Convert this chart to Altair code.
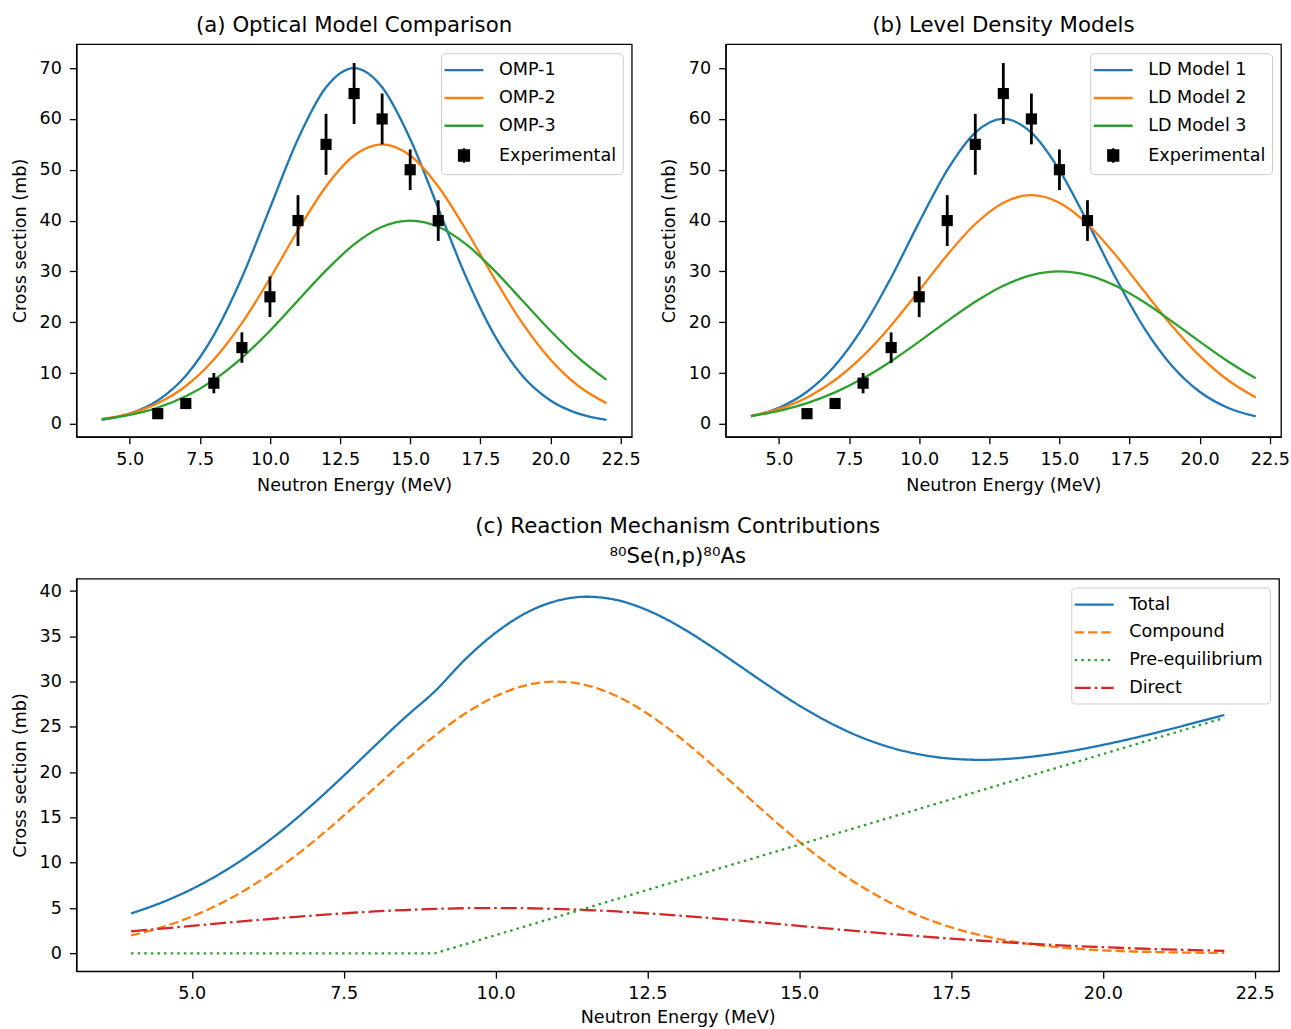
import altair as alt
import pandas as pd

FONT = "DejaVu Sans"
BLUE, ORANGE, GREEN, RED = "#1f77b4", "#ff7f0e", "#2ca02c", "#d62728"
FS = 17.6      # tick / label / legend font
TFS = 21.3     # panel title font

# ---------------- data ----------------
energy = [4, 5, 6, 7, 8, 9, 10, 11, 12, 13, 14, 15, 16, 17, 18, 19, 20, 21, 22]

omp1 = [0.78, 2.00, 4.60, 9.47, 17.46, 28.78, 42.46, 56.05, 66.22, 70.00,
        66.22, 56.05, 42.46, 28.78, 17.46, 9.47, 4.60, 2.00, 0.78]
omp2 = [0.93, 2.02, 4.04, 7.44, 12.66, 19.82, 28.62, 38.09, 46.71, 52.80,
        55.00, 52.80, 46.71, 38.09, 28.62, 19.82, 12.66, 7.44, 4.04]
omp3 = [0.91, 1.76, 3.18, 5.41, 8.65, 12.99, 18.31, 24.26, 30.19, 35.30,
        38.77, 40.00, 38.77, 35.30, 30.19, 24.26, 18.31, 12.99, 8.65]

ld1 = [1.46, 3.17, 6.32, 11.49, 19.04, 28.78, 39.69, 49.93, 57.31, 60.00,
       57.31, 49.93, 39.69, 28.78, 19.04, 11.49, 6.32, 3.17, 1.46]
ld2 = [1.54, 2.93, 5.19, 8.62, 13.36, 19.36, 26.23, 33.22, 39.32, 43.51,
       45.00, 43.51, 39.32, 33.22, 26.23, 19.36, 13.36, 8.62, 5.19]
ld3 = [1.51, 2.54, 4.06, 6.18, 8.95, 12.33, 16.18, 20.21, 24.02, 27.18,
       29.27, 30.00, 29.27, 27.18, 24.02, 20.21, 16.18, 12.33, 8.95]

exp_e = [6, 7, 8, 9, 10, 11, 12, 13, 14, 15, 16]
exp_xs = [2, 4, 8, 15, 25, 40, 55, 65, 60, 50, 40]
exp_err = [1, 1, 2, 3, 4, 5, 6, 6, 5, 4, 4]

energy_c = [4, 4.5, 5, 5.5, 6, 6.5, 7, 7.5, 8, 8.5, 9, 9.5, 10, 10.5, 11, 11.5,
            12, 12.5, 13, 13.5, 14, 14.5, 15, 15.5, 16, 16.5, 17, 17.5, 18,
            18.5, 19, 19.5, 20, 20.5, 21, 21.5, 22]
total_c = [4.40, 5.60, 7.09, 8.93, 11.11, 13.65, 16.51, 19.60, 22.82, 25.98,
           28.92, 32.45, 35.38, 37.57, 38.90, 39.37, 39.00, 37.88, 36.20, 34.11,
           31.83, 29.53, 27.36, 25.47, 23.91, 22.74, 21.94, 21.49, 21.36, 21.50,
           21.85, 22.36, 23.01, 23.75, 24.56, 25.43, 26.32]
compound_c = [1.97, 2.87, 4.06, 5.59, 7.48, 9.74, 12.33, 15.19, 18.20, 21.20,
              24.02, 26.47, 28.38, 29.59, 30.00, 29.59, 28.38, 26.47, 24.02, 21.20,
              18.20, 15.19, 12.33, 9.74, 7.48, 5.59, 4.06, 2.87, 1.97, 1.32,
              0.86, 0.54, 0.33, 0.20, 0.12, 0.07, 0.04]
preeq_c = [0, 0, 0, 0, 0, 0, 0, 0, 0, 0, 0, 1, 2, 3, 4, 5, 6, 7, 8, 9, 10, 11,
           12, 13, 14, 15, 16, 17, 18, 19, 20, 21, 22, 23, 24, 25, 26]
direct_c = [2.43, 2.73, 3.03, 3.34, 3.63, 3.91, 4.18, 4.41, 4.62, 4.78, 4.90,
            4.98, 5.00, 4.98, 4.90, 4.78, 4.62, 4.41, 4.18, 3.91, 3.63, 3.34,
            3.03, 2.73, 2.43, 2.15, 1.88, 1.62, 1.39, 1.18, 0.99, 0.82, 0.68,
            0.55, 0.44, 0.36, 0.28]

names_a = ["OMP-1", "OMP-2", "OMP-3", "Experimental"]
names_b = ["LD Model 1", "LD Model 2", "LD Model 3", "Experimental"]
names_c = ["Total", "Compound", "Pre-equilibrium", "Direct"]

x_ticks = [5, 7.5, 10, 12.5, 15, 17.5, 20, 22.5]
y_ticks_ab = [0, 10, 20, 30, 40, 50, 60, 70]
y_ticks_c = [0, 5, 10, 15, 20, 25, 30, 35, 40]

# ---------------- legend symbol paths ----------------
LINE_PATH = "M-1.5,0H2.83"
EXP_PATH = ("M0.12,-0.56H1.22V0.56H0.12Z M0.33,-0.35H1.01V0.35H0.33Z "
            "M0.54,-0.14H0.8V0.14H0.54Z M0.67,-0.8V0.8")


def legend_params():
    return alt.Legend(
        title=None, orient="top-right", offset=9, padding=6.5,
        fillColor="white", strokeColor="#cccccc", cornerRadius=4,
        labelFont=FONT, labelFontSize=FS, labelColor="black",
        symbolSize=324, symbolStrokeWidth=2.3, symbolOpacity=1,
        symbolOffset=0, labelOffset=30.5, rowPadding=7.8,
    )


xscale = alt.Scale(domain=[3.1, 22.9], nice=False, zero=False)
xaxis = alt.Axis(values=x_ticks, format=".1f", title="Neutron Energy (MeV)",
                 labelPadding=7, titlePadding=8.5)
xaxis_c = alt.Axis(values=x_ticks, format=".1f", title="Neutron Energy (MeV)",
                   labelPadding=6, titlePadding=7)


def top_panel(series, names, title):
    rows = []
    for name, vals in zip(names[:3], series):
        for e, v in zip(energy, vals):
            rows.append({"E": e, "xs": v, "model": name})
    lines = pd.DataFrame(rows)
    exp = pd.DataFrame({"E": exp_e, "xs": exp_xs, "err": exp_err})
    exp["lo"] = exp["xs"] - exp["err"]
    exp["hi"] = exp["xs"] + exp["err"]

    cscale = alt.Scale(domain=names, range=[BLUE, ORANGE, GREEN, "black"])
    sscale = alt.Scale(domain=names, range=[LINE_PATH, LINE_PATH, LINE_PATH, EXP_PATH])
    yscale = alt.Scale(domain=[-2.55, 74.7], nice=False, zero=False)
    yaxis = alt.Axis(values=y_ticks_ab, title="Cross section (mb)",
                     labelPadding=8, titlePadding=10)

    x = alt.X("E:Q", scale=xscale, axis=xaxis)
    y = alt.Y("xs:Q", scale=yscale, axis=yaxis)

    leg = alt.Chart(pd.DataFrame({"model": names})).mark_point(
        filled=False, opacity=0, strokeWidth=2.3).encode(
        color=alt.Color("model:N", scale=cscale, legend=legend_params()),
        shape=alt.Shape("model:N", scale=sscale, legend=legend_params()))
    line = alt.Chart(lines).mark_line(strokeWidth=2.3, interpolate="monotone").encode(
        x=x, y=y, color=alt.Color("model:N", scale=cscale, legend=legend_params()))
    bars = alt.Chart(exp).mark_rule(color="black", strokeWidth=2.8).encode(
        x=alt.X("E:Q", scale=xscale), y=alt.Y("lo:Q", scale=yscale), y2="hi:Q")
    pts = alt.Chart(exp).mark_square(color="black", size=125, opacity=1).encode(
        x=alt.X("E:Q", scale=xscale), y=alt.Y("xs:Q", scale=yscale))
    return alt.layer(leg, line, bars, pts).properties(
        width=556, height=393,
        title=alt.TitleParams(title, font=FONT, fontSize=TFS, fontWeight="normal",
                              color="black", offset=8))


panel_a = top_panel([omp1, omp2, omp3], names_a, "(a) Optical Model Comparison")
panel_b = top_panel([ld1, ld2, ld3], names_b, "(b) Level Density Models")

rows_c = []
for name, vals in zip(names_c, [total_c, compound_c, preeq_c, direct_c]):
    for e, v in zip(energy_c, vals):
        rows_c.append({"E": e, "xs": v, "comp": name})
df_c = pd.DataFrame(rows_c)

cscale_c = alt.Scale(domain=names_c, range=[BLUE, ORANGE, GREEN, RED])
dscale_c = alt.Scale(domain=names_c, range=[[1, 0], [9.3, 4], [2.5, 4.1], [16, 4, 2.5, 4]])
sscale_c = alt.Scale(domain=names_c, range=[LINE_PATH] * 4)
yscale_c = alt.Scale(domain=[-1.97, 41.37], nice=False, zero=False)

xc = alt.X("E:Q", scale=xscale, axis=xaxis_c)
yc = alt.Y("xs:Q", scale=yscale_c, axis=alt.Axis(values=y_ticks_c, title="Cross section (mb)",
                                                 labelPadding=8, titlePadding=10))

leg_c = alt.Chart(pd.DataFrame({"comp": names_c})).mark_point(
    filled=False, opacity=0, strokeWidth=2.3).encode(
    color=alt.Color("comp:N", scale=cscale_c, legend=legend_params()),
    shape=alt.Shape("comp:N", scale=sscale_c, legend=legend_params()),
    strokeDash=alt.StrokeDash("comp:N", scale=dscale_c, legend=legend_params()))
curves = alt.Chart(df_c).transform_filter(alt.datum.comp != "Pre-equilibrium").mark_line(
    strokeWidth=2.3, interpolate="monotone").encode(
    x=xc, y=yc,
    color=alt.Color("comp:N", scale=cscale_c, legend=legend_params()),
    strokeDash=alt.StrokeDash("comp:N", scale=dscale_c, legend=legend_params()))
preeq = alt.Chart(df_c).transform_filter(alt.datum.comp == "Pre-equilibrium").mark_line(
    strokeWidth=2.3).encode(
    x=xc, y=yc,
    color=alt.Color("comp:N", scale=cscale_c, legend=legend_params()),
    strokeDash=alt.StrokeDash("comp:N", scale=dscale_c, legend=legend_params()))

panel_c = alt.layer(leg_c, curves, preeq).properties(
    width=1204, height=393,
    title=alt.TitleParams(["(c) Reaction Mechanism Contributions", "⁸⁰Se(n,p)⁸⁰As"],
                          font=FONT, fontSize=TFS, fontWeight="normal", color="black",
                          offset=11, lineHeight=30))

top = alt.hconcat(panel_a, panel_b, spacing=17).resolve_scale(
    color="independent", shape="independent")
chart = alt.vconcat(top, panel_c, spacing=20).resolve_scale(
    color="independent", shape="independent", strokeDash="independent"
).properties(
    padding={"left": 9.5, "top": 13.7, "right": 0, "bottom": 1}
).configure_view(stroke="black", strokeWidth=1.3).configure_axis(
    grid=False, domainColor="black", domainWidth=1.3, tickColor="black",
    tickWidth=1.3, tickSize=7, labelFont=FONT, labelFontSize=FS,
    labelColor="black", titleFont=FONT, titleFontSize=FS,
    titleColor="black", titleFontWeight="normal")

chart.save("out.html", embed_options={"renderer": "svg", "actions": False})
